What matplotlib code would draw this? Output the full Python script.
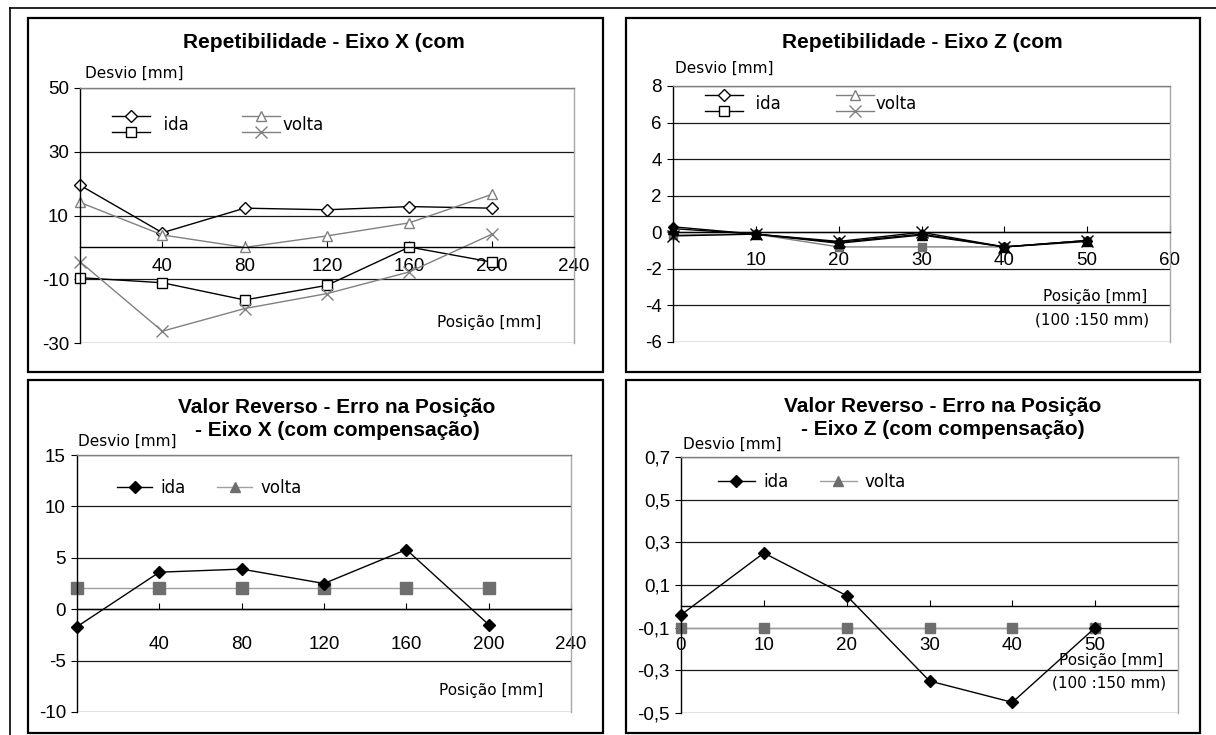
import matplotlib
matplotlib.use("Agg")
import matplotlib.pyplot as plt
from matplotlib.lines import Line2D
from matplotlib.patches import Rectangle
from matplotlib.legend_handler import HandlerBase

# ---- data ----
pos_x = [0, 40, 80, 120, 160, 200]
pos_z = [0, 10, 20, 30, 40, 50]

# Repetibilidade - Eixo X
rep_x_ida_a = [19.5, 4.6, 12.3, 11.8, 12.8, 12.3]      # diamond
rep_x_ida_b = [-9.5, -11.1, -16.5, -11.9, 0.1, -4.6]   # square
rep_x_volta_a = [14.1, 3.9, 0.0, 3.6, 7.7, 16.6]       # triangle
rep_x_volta_b = [-4.5, -26.3, -19.2, -14.5, -7.7, 4.1]  # x

# Repetibilidade - Eixo Z
rep_z_ida_a = [0.3, -0.1, -0.55, -0.1, -0.8, -0.45]
rep_z_ida_b = [-0.15, -0.1, -0.8, -0.8, -0.8, -0.45]
rep_z_volta_a = [0.2, -0.1, -0.6, -0.15, -0.8, -0.5]
rep_z_volta_b = [-0.2, -0.1, -0.5, 0.0, -0.8, -0.45]

# Valor reverso
rev_x_ida = [-1.7, 3.6, 3.9, 2.5, 5.8, -1.5]
rev_x_volta = [2.1, 2.1, 2.1, 2.1, 2.1, 2.1]
rev_z_ida = [-0.04, 0.25, 0.05, -0.35, -0.45, -0.1]
rev_z_volta = [-0.1, -0.1, -0.1, -0.1, -0.1, -0.1]

W, H = 1216, 735
LABEL_FONT = "DejaVu Sans"
TICK_FONT = "Liberation Sans"


def fx(px):
    return px / W


def fy(py):
    return 1 - py / H


def rect(x0, y0, x1, y1):
    return [fx(x0), fy(y1), (x1 - x0) / W, (y1 - y0) / H]


class StackHandler(HandlerBase):
    # two small legend lines stacked on top of each other, one label
    def create_artists(self, legend, orig_handle, xdescent, ydescent,
                       width, height, fontsize, trans):
        out = []
        for i, h in enumerate(orig_handle):
            y = height / 2 + (0.69 - 1.38 * i) * height - ydescent
            ln = Line2D([-xdescent, width - xdescent], [y, y],
                        color=h.get_color(), lw=h.get_linewidth())
            mk = Line2D([width / 2 - xdescent], [y], ls="none",
                        marker=h.get_marker(), ms=h.get_markersize(),
                        mfc=h.get_markerfacecolor(), mec=h.get_markeredgecolor(),
                        mew=h.get_markeredgewidth())
            for a in (ln, mk):
                a.set_transform(trans)
                out.append(a)
        return out


def style_axes(ax, xlim, ylim, xticks, xlabels, yticks, ylabels, xpad):
    # spine position first: moving it resets the ticks
    ax.spines["bottom"].set_position(("data", 0))
    ax.set_xlim(*xlim)
    ax.set_ylim(*ylim)
    ax.set_yticks(yticks)
    ax.set_yticklabels(ylabels)
    ax.set_xticks(xticks)
    ax.set_xticklabels(xlabels)
    ax.spines["bottom"].set_color("black")
    ax.spines["left"].set_color("black")
    ax.spines["top"].set_color("#808080")
    ax.spines["right"].set_color("#a8a8a8")
    for s in ax.spines.values():
        s.set_linewidth(1.0)
    ax.tick_params(labelsize=13.5, labelfontfamily=TICK_FONT)
    ax.tick_params(axis="y", direction="out", length=4, width=0.8, pad=4)
    ax.tick_params(axis="x", direction="in", length=4, width=0.8, pad=xpad)
    ax.grid(axis="y", color="#1a1a1a", lw=0.9)
    ax.grid(axis="x", visible=False)
    ax.set_axisbelow(True)


fig = plt.figure(figsize=(W / 100, H / 100), dpi=100)

# frame lines of the page
fig.add_artist(Line2D([fx(10), 1], [fy(8), fy(8)], color="black", lw=1.2))
fig.add_artist(Line2D([fx(10), fx(10)], [fy(8), 0], color="black", lw=1.2))
for x0, y0, x1, y1 in [(28, 18, 603, 372), (626, 18, 1200, 372),
                       (28, 380, 603, 733), (626, 380, 1200, 733)]:
    fig.add_artist(Rectangle((fx(x0), fy(y1)), (x1 - x0) / W, (y1 - y0) / H,
                             transform=fig.transFigure, fill=False,
                             ec="black", lw=1.6))

gray = "#808080"
kw_line = dict(lw=1.0, clip_on=False)

# ---------- top left: Repetibilidade X ----------
ax1 = fig.add_axes(rect(80, 88, 574, 343))
ax1.plot(pos_x, rep_x_ida_a, color="black", marker="D", ms=6, mfc="white", mec="black", **kw_line)
ax1.plot(pos_x, rep_x_ida_b, color="black", marker="s", ms=7, mfc="white", mec="black", **kw_line)
ax1.plot(pos_x, rep_x_volta_a, color=gray, marker="^", ms=7, mfc="white", mec=gray, **kw_line)
ax1.plot(pos_x, rep_x_volta_b, color=gray, marker="x", ms=9, mec=gray, **kw_line)
style_axes(ax1, (0, 240), (-30, 50), [40, 80, 120, 160, 200, 240],
           ["40", "80", "120", "160", "200", "240"],
           [-30, -10, 10, 30, 50], ["-30", "-10", "10", "30", "50"], 8)

# ---------- top right: Repetibilidade Z ----------
ax2 = fig.add_axes(rect(673, 86, 1170, 342))
ax2.plot(pos_z, rep_z_ida_b, color=gray, marker="s", ms=6, mfc="#707070", mec="#707070", **kw_line)
ax2.plot(pos_z, rep_z_ida_a, color="black", marker="D", ms=5, mfc="black", mec="black", **kw_line)
ax2.plot(pos_z, rep_z_volta_b, color="black", marker="x", ms=8, mec="black", **kw_line)
ax2.plot(pos_z, rep_z_volta_a, color="black", marker="^", ms=7, mfc="black", mec="black", **kw_line)
style_axes(ax2, (0, 60), (-6, 8), [10, 20, 30, 40, 50, 60],
           ["10", "20", "30", "40", "50", "60"],
           [-6, -4, -2, 0, 2, 4, 6, 8], ["-6", "-4", "-2", "0", "2", "4", "6", "8"], 14)

# ---------- bottom left: Valor reverso X ----------
ax3 = fig.add_axes(rect(77, 455, 571, 712))
ax3.plot(pos_x, rev_x_volta, color="#a0a0a0", marker="s", ms=8, mfc="#6e6e6e", mec="#6e6e6e", **kw_line)
ax3.plot(pos_x, rev_x_ida, color="black", marker="D", ms=6, mfc="black", mec="black", **kw_line)
style_axes(ax3, (0, 240), (-10, 15), [40, 80, 120, 160, 200, 240],
           ["40", "80", "120", "160", "200", "240"],
           [-10, -5, 0, 5, 10, 15], ["-10", "-5", "0", "5", "10", "15"], 19)

# ---------- bottom right: Valor reverso Z ----------
ax4 = fig.add_axes(rect(681, 457, 1178, 713))
ax4.plot(pos_z, rev_z_volta, color="#a0a0a0", marker="s", ms=7, mfc="#6e6e6e", mec="#6e6e6e", **kw_line)
ax4.plot(pos_z, rev_z_ida, color="black", marker="D", ms=6, mfc="black", mec="black", **kw_line)
style_axes(ax4, (0, 60), (-0.5, 0.7), [0, 10, 20, 30, 40, 50, 60],
           ["0", "10", "20", "30", "40", "50", ""],
           [-0.5, -0.3, -0.1, 0.1, 0.3, 0.5, 0.7],
           ["-0,5", "-0,3", "-0,1", "0,1", "0,3", "0,5", "0,7"], 22)

# ---------- legends ----------
def hollow(marker, color, ms):
    return Line2D([], [], color=color, lw=1.0, marker=marker, ms=ms,
                  mfc="white" if marker != "x" else color, mec=color)


hm = {tuple: StackHandler()}
leg_kw = dict(frameon=False, ncol=2, borderpad=0, borderaxespad=0,
              handler_map=hm, prop={"family": LABEL_FONT, "size": 12},
              loc="center left", bbox_transform=fig.transFigure)

ax1.legend([(hollow("D", "black", 6), hollow("s", "black", 7)),
            (hollow("^", gray, 7), hollow("x", gray, 8))],
           ["  ida", "volta"], handlelength=2.3, handletextpad=0.15,
           columnspacing=3.2, bbox_to_anchor=(fx(112), fy(125)), **leg_kw)
ax2.legend([(hollow("D", "black", 6), hollow("s", "black", 7)),
            (hollow("^", gray, 7), hollow("x", gray, 8))],
           ["  ida", "volta"], handlelength=2.3, handletextpad=0.1,
           columnspacing=3.3, bbox_to_anchor=(fx(705), fy(104)), **leg_kw)

leg_kw2 = dict(leg_kw)
leg_kw2.pop("handler_map")
bl_handles = [Line2D([], [], color="black", lw=1.0, marker="D", ms=6, mfc="black"),
              Line2D([], [], color="#a0a0a0", lw=1.0, marker="^", ms=7,
                     mfc="#6e6e6e", mec="#6e6e6e")]
ax3.legend(bl_handles, ["ida", "volta"], handlelength=2.1, handletextpad=0.5,
           columnspacing=1.9, bbox_to_anchor=(fx(117), fy(488)), **leg_kw2)
ax4.legend(bl_handles, ["ida", "volta"], handlelength=2.2, handletextpad=0.5,
           columnspacing=1.9, bbox_to_anchor=(fx(718), fy(482)), **leg_kw2)

# ---------- titles ----------
title_kw = dict(ha="center", va="center", fontsize=15, fontweight="bold",
                fontfamily=TICK_FONT)
fig.text(fx(324), fy(43), "Repetibilidade - Eixo X (com", **title_kw)
fig.text(fx(922), fy(43), "Repetibilidade - Eixo Z (com", **title_kw)
fig.text(fx(337), fy(419), "Valor Reverso - Erro na Posição\n- Eixo X (com compensação)",
         linespacing=1.3, **title_kw)
fig.text(fx(943), fy(418), "Valor Reverso - Erro na Posição\n- Eixo Z (com compensação)",
         linespacing=1.25, **title_kw)

# ---------- axis captions ----------
lab_kw = dict(ha="left", va="center", fontsize=11, fontfamily=LABEL_FONT)
fig.text(fx(85), fy(73), "Desvio [mm]", **lab_kw)
fig.text(fx(675), fy(68), "Desvio [mm]", **lab_kw)
fig.text(fx(78), fy(441), "Desvio [mm]", **lab_kw)
fig.text(fx(683), fy(444), "Desvio [mm]", **lab_kw)

pos_kw = dict(ha="left", va="center", fontsize=11, fontfamily=LABEL_FONT)
fig.text(fx(437), fy(323), "Posição [mm]", **pos_kw)
fig.text(fx(1043), fy(297), "Posição [mm]", **pos_kw)
fig.text(fx(1035), fy(320), "(100 :150 mm)", **pos_kw)
fig.text(fx(439), fy(690), "Posição [mm]", **pos_kw)
fig.text(fx(1059), fy(661), "Posição [mm]", **pos_kw)
fig.text(fx(1052), fy(683), "(100 :150 mm)", **pos_kw)

fig.savefig("out.png", dpi=100)
